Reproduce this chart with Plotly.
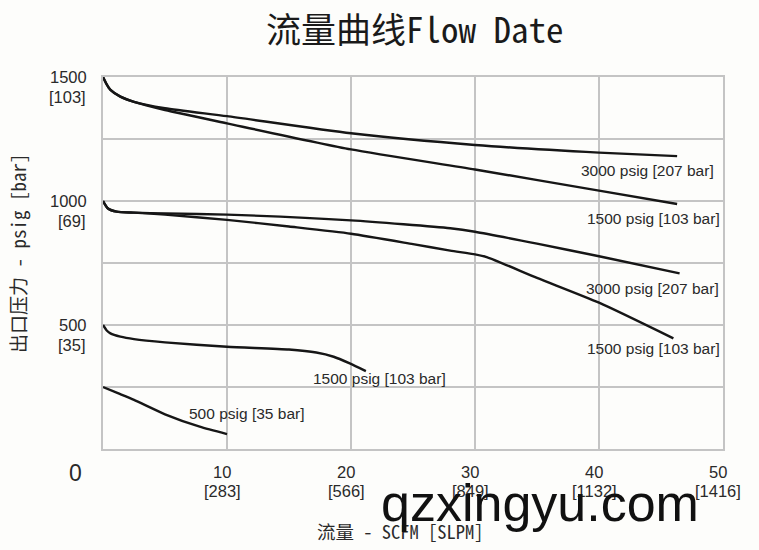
import plotly.graph_objects as go

# ---------------- data ----------------
flow_a = [0, 0.3, 0.6, 1.4, 2.5, 5, 10, 20, 30, 40, 46.3]
p_a_3000 = [1500, 1470, 1448, 1421, 1400, 1374, 1342, 1273, 1226, 1195, 1181]
p_a_1500 = [1500, 1470, 1448, 1421, 1400, 1367, 1313, 1208, 1127, 1042, 988]

flow_b_3000 = [0, 0.4, 1.1, 2.5, 5, 10, 20, 28, 30, 35, 40, 46.5]
p_b_3000 = [1000, 970, 957, 953, 950, 945, 922, 890, 876, 828, 777, 708]
flow_b_1500 = [0, 0.4, 1.1, 2.5, 5, 10, 15, 20, 25, 28, 30, 31, 35, 40, 46]
p_b_1500 = [1000, 970, 957, 953, 945, 924, 897, 868, 826, 800, 785, 773, 690, 590, 446]

flow_c_1500 = [0, 0.3, 0.6, 1.4, 2.5, 5, 10, 15, 17.2, 18.6, 19.9, 21.2]
p_c_1500 = [500, 478, 466, 453, 443, 430, 412, 401, 389, 372, 345, 314]

flow_d_500 = [0, 1.2, 2.5, 5, 7.8, 10]
p_d_500 = [250, 225, 198, 140, 90, 60]

curve_labels = ["3000 psig [207 bar]", "1500 psig [103 bar]", "3000 psig [207 bar]",
                "1500 psig [103 bar]", "1500 psig [103 bar]", "500 psig [35 bar]"]
label_x = [43.95, 44.4, 44.3, 44.4, 22.3, 11.6]
label_y = [1125, 931, 649, 407, 286, 145]

x_ticks = [10, 20, 30, 40, 50]
x_tick_slpm = ["[283]", "[566]", "[849]", "[1132]", "[1416]"]
y_ticks = [500, 1000, 1500]
y_tick_bar = ["[35]", "[69]", "[103]"]

title_text = "流量曲线Flow Date"
x_title = "流量 - SCFM [SLPM]"
y_title = "出口压力 - psig [bar]"
watermark = "qzxingyu.com"

# ---------------- figure ----------------
LINE = dict(color="#161616", width=2.4, shape="spline", smoothing=0.6)
SANS = "Liberation Sans Narrow, Arial Narrow, Liberation Sans, Arial, sans-serif"
MONO_CJK = "Noto Sans Mono CJK SC, Noto Sans CJK SC, sans-serif"
TXT = "#2a2a2a"

fig = go.Figure()
for xs, ys in [(flow_a, p_a_3000), (flow_a, p_a_1500), (flow_b_3000, p_b_3000),
               (flow_b_1500, p_b_1500), (flow_c_1500, p_c_1500), (flow_d_500, p_d_500)]:
    fig.add_trace(go.Scatter(x=xs, y=ys, mode="lines", line=LINE,
                             hoverinfo="skip", showlegend=False))

annotations = []
for t, x, y in zip(curve_labels, label_x, label_y):
    annotations.append(dict(x=x, y=y, xref="x", yref="y", text=t, showarrow=False,
                            font=dict(family=SANS, size=15.5, color=TXT),
                            xanchor="center", yanchor="middle"))
for x, s in zip(x_ticks, x_tick_slpm):
    annotations.append(dict(x=x, y=0, xref="x", yref="y", text=str(x),
                            showarrow=False, xanchor="center", yanchor="middle",
                            xshift=-5, yshift=-23,
                            font=dict(family=SANS, size=16.5, color=TXT)))
    annotations.append(dict(x=x, y=0, xref="x", yref="y", text=s,
                            showarrow=False, xanchor="center", yanchor="middle",
                            xshift=-5, yshift=-42,
                            font=dict(family=SANS, size=16.5, color=TXT)))
for y, s in zip(y_ticks, y_tick_bar):
    annotations.append(dict(x=0, y=y, xref="paper", yref="y", text=str(y),
                            showarrow=False, xanchor="right", yanchor="middle",
                            xshift=-14, yshift=0,
                            font=dict(family=SANS, size=16.5, color=TXT)))
    annotations.append(dict(x=0, y=y, xref="paper", yref="y", text=s,
                            showarrow=False, xanchor="right", yanchor="middle",
                            xshift=-15, yshift=-20,
                            font=dict(family=SANS, size=16.5, color=TXT)))
annotations.append(dict(x=0, y=0, xref="paper", yref="y", text="0", showarrow=False,
                        xanchor="center", yanchor="middle", xshift=-28, yshift=-24,
                        font=dict(family=SANS, size=23, color=TXT)))
annotations.append(dict(x=(415 - 103) / 620, y=1 + (77 - 27) / 372, xref="paper", yref="paper",
                        text=title_text, showarrow=False, xanchor="center", yanchor="middle",
                        font=dict(family=MONO_CJK, size=35, color="#1a1a1a")))
annotations.append(dict(x=(400 - 103) / 620, y=-(531 - 449) / 372, xref="paper", yref="paper",
                        text=x_title, showarrow=False, xanchor="center", yanchor="middle",
                        font=dict(family=MONO_CJK, size=18.5, color=TXT)))
annotations.append(dict(x=-(103 - 17) / 620, y=(449 - 253) / 372, xref="paper", yref="paper",
                        text=y_title, showarrow=False, xanchor="center", yanchor="middle",
                        textangle=-90,
                        font=dict(family=MONO_CJK, size=19, color=TXT)))
annotations.append(dict(x=(540 - 103) / 620, y=-(503 - 449) / 372, xref="paper", yref="paper",
                        text=watermark, showarrow=False, xanchor="center", yanchor="middle",
                        font=dict(family="Liberation Sans, Arial, sans-serif", size=52,
                                  color="#111111")))

GRID = "#c4c4c4"
fig.update_layout(
    width=759, height=550,
    margin=dict(l=103, r=36, t=77, b=101),
    paper_bgcolor="#fdfdfb", plot_bgcolor="#fdfdfb",
    annotations=annotations,
    xaxis=dict(range=[0, 50], dtick=10, tick0=0, showgrid=True, gridcolor=GRID, gridwidth=1.5,
               showline=True, linecolor=GRID, linewidth=1.5, mirror=True,
               showticklabels=False, ticks="", zeroline=False, fixedrange=True),
    yaxis=dict(range=[0, 1500], dtick=250, tick0=0, showgrid=True, gridcolor=GRID, gridwidth=1.5,
               showline=True, linecolor=GRID, linewidth=1.5, mirror=True,
               showticklabels=False, ticks="", zeroline=False, fixedrange=True),
)

fig.write_html("out.html", config={"displayModeBar": False},
               post_script="document.body.style.margin='0';document.body.style.background='#fdfdfb';")
